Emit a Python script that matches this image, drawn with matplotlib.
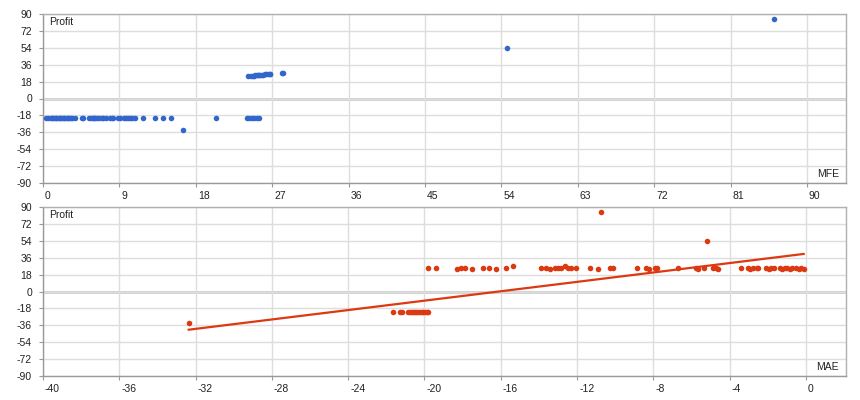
import numpy as np
import matplotlib
matplotlib.use("Agg")
import matplotlib.pyplot as plt
import matplotlib.transforms as mtrans

# ---------------- data ----------------
mfe = [0.32, 0.59, 0.91, 1.05, 1.21, 1.4, 1.53, 1.7, 1.85, 2.0, 2.16, 2.3, 2.47, 2.6,
       2.79, 2.95, 3.10, 3.25, 3.42, 3.73, 4.6, 4.68, 5.45, 5.6, 5.85, 6.0, 6.16, 6.4, 6.63,
       6.9, 7.10, 7.46, 7.89, 8.1, 8.28, 8.87, 9.03, 9.54, 9.8, 10.05, 10.2, 10.45, 10.83,
       11.82, 13.16, 14.10, 15.11, 16.46, 20.38,
       24.0, 24.3, 24.6, 24.9, 25.2, 25.4,
       24.2, 24.5, 24.7, 24.9, 25.0, 25.2, 25.3, 25.5, 25.6, 25.8, 25.9, 26.1, 26.3, 26.5,
       26.7, 26.8, 28.1, 28.3,
       54.66, 86.1]
mfe_profit = [-20.5] * 47 + [-33.5, -20.5] + [-20.5] * 6 + \
             [23.5, 24.0, 24.2, 24.4, 24.5, 24.7, 24.8, 25.0, 25.1, 25.3, 25.4, 25.6, 25.8, 26.0,
              26.2, 26.4, 27.0, 27.0] + [53.8, 84.7]

mae_loss = [-21.64, -21.29, -21.20, -20.85, -20.77, -20.68, -20.59, -20.50, -20.42, -20.33,
            -20.24, -20.15, -20.07, -19.98, -19.89, -19.81]
mae_win = [-19.81, -19.40, -18.32, -18.06, -17.88, -17.53, -16.92, -16.61, -16.26, -15.73,
           -15.35, -13.87, -13.61, -13.40, -13.17, -13.00, -12.82, -12.65, -12.47, -12.30,
           -12.04, -11.34, -10.91, -10.28, -10.11, -8.85, -8.36, -8.22, -7.92, -7.80, -6.70,
           -5.75, -5.66, -5.34, -4.87, -4.72, -4.61, -3.38, -3.04, -2.91, -2.77, -2.59, -2.51,
           -2.07, -1.93, -1.81, -1.69, -1.37, -1.23, -1.11, -0.99, -0.85, -0.71, -0.50, -0.38,
           -0.24, -0.12]
win_profit = [24.5, 24.5, 24.0, 24.5, 24.5, 24.0, 24.5, 24.5, 24.0, 24.5,
              27.0, 24.5, 24.5, 24.0, 24.5, 24.5, 25.0, 27.0, 25.0, 24.5,
              24.5, 24.5, 24.0, 24.5, 24.5, 24.5, 24.5, 24.0, 24.5, 24.5, 24.5,
              24.5, 24.0, 24.5, 25.5, 24.5, 24.0, 24.5, 24.5, 24.0, 25.0, 24.5, 24.5,
              24.5, 24.0, 24.5, 24.5, 24.5, 24.0, 24.5, 24.5, 24.0, 24.5, 24.5, 24.0,
              24.5, 24.0]
mae = mae_loss + [-32.36] + mae_win + [-10.72, -5.18]
mae_profit = [-21.5] * len(mae_loss) + [-33.5] + win_profit + [85.0, 53.5]

trend_slope = 2.503
trend_intercept = 40.3

top_xticks = [0, 9, 18, 27, 36, 45, 54, 63, 72, 81, 90]
bot_xticks = [-40, -36, -32, -28, -24, -20, -16, -12, -8, -4, 0]
yticks = [-90, -72, -54, -36, -18, 0, 18, 36, 54, 72, 90]

BLUE = "#3366cc"
RED = "#dc3912"

plt.rcParams['font.family'] = ['Liberation Sans', 'DejaVu Sans']

fig = plt.figure(figsize=(8.6, 4.0), dpi=100)
fig.patch.set_facecolor("white")

ax1 = fig.add_axes([43 / 860, 1 - 183 / 400, 803 / 860, 169 / 400])
ax2 = fig.add_axes([43 / 860, 1 - 376 / 400, 803 / 860, 169 / 400])


def style(ax, xticks, xlim, xlabel):
    ax.set_xlim(*xlim)
    ax.set_ylim(-90, 90)
    ax.set_xticks(xticks)
    ax.set_yticks(yticks)
    ax.set_xticklabels([str(t) for t in xticks])
    ax.set_yticklabels([str(t) for t in yticks])
    ax.grid(True, color="#dddddd", linewidth=1.0)
    ax.set_axisbelow(True)
    ax.axhline(0, color="#cccccc", linewidth=2.0, zorder=0.5)
    for s in ax.spines.values():
        s.set_color("#b0b0b0")
        s.set_linewidth(1.0)
    ax.spines['left'].set_color("#999999")
    ax.spines['bottom'].set_color("#999999")
    ax.tick_params(axis='both', length=3, width=0.8, color="#999999",
                   labelsize=7.5, labelcolor="#222222")
    ax.tick_params(axis='y', pad=5)
    ax.tick_params(axis='x', pad=3)
    off = mtrans.ScaledTranslation(2 / 100, 0, fig.dpi_scale_trans)
    for lab in ax.get_xticklabels():
        lab.set_horizontalalignment('left')
        lab.set_transform(lab.get_transform() + off)
    ax.text(6 / 803, 1 - 8 / 169, "Profit", transform=ax.transAxes,
            fontsize=7.5, color="#222222", ha='left', va='center')
    ax.text(1 - 7 / 803, 9 / 169, xlabel, transform=ax.transAxes,
            fontsize=7.5, color="#222222", ha='right', va='center')


style(ax1, top_xticks, (0, 94.6), "MFE")
style(ax2, bot_xticks, (-40, 2.1), "MAE")

ax1.scatter(mfe, mfe_profit, s=16, color=BLUE, linewidths=0, zorder=3)
ax2.scatter(mae, mae_profit, s=16, color=RED, linewidths=0, zorder=3)

tx = np.array([min(mae), max(mae)])
ax2.plot(tx, trend_slope * tx + trend_intercept, color=RED, linewidth=1.6, zorder=4)

fig.savefig("out.png", dpi=100, facecolor="white")
